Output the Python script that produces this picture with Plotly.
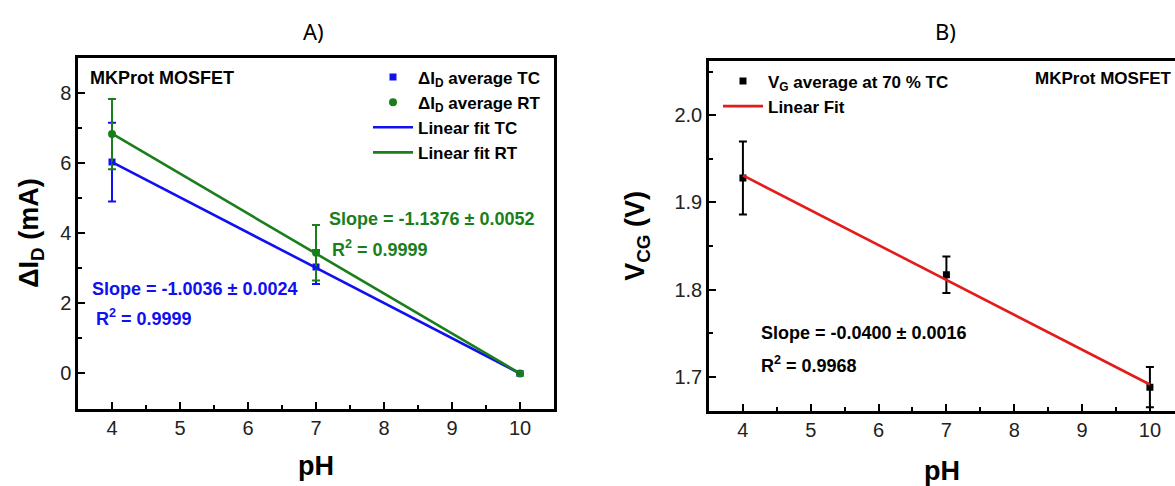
import plotly.graph_objects as go

# ---------------- Panel A data ----------------
ph = [4, 7, 10]
id_tc = [6.02, 3.03, 0.0]
id_tc_err = [1.12, 0.48, 0.0]
id_rt = [6.82, 3.44, 0.0]
id_rt_err = [1.0, 0.79, 0.0]
fit_ph = [4, 10]
fit_tc = [6.02, 0.0]
fit_rt = [6.83, 0.0]

# ---------------- Panel B data ----------------
vcg = [1.928, 1.817, 1.688]
vcg_err = [0.042, 0.021, 0.023]
fit_vcg = [1.931, 1.691]

BLUE = "#1010f0"
GREEN = "#1a7f1a"
RED = "#e41b1b"
FONT = "Liberation Sans"

fig = go.Figure()

fig.add_trace(go.Scatter(
    x=ph, y=id_tc, mode="markers", name="<b>ΔI<sub>D</sub> average TC</b>",
    marker=dict(symbol="square", size=7, color=BLUE),
    error_y=dict(type="data", array=id_tc_err, color=BLUE, thickness=2, width=4),
    xaxis="x", yaxis="y", legend="legend"))
fig.add_trace(go.Scatter(
    x=ph, y=id_rt, mode="markers", name="<b>ΔI<sub>D</sub> average RT</b>",
    marker=dict(symbol="circle", size=8, color=GREEN),
    error_y=dict(type="data", array=id_rt_err, color=GREEN, thickness=2, width=4),
    xaxis="x", yaxis="y", legend="legend"))
fig.add_trace(go.Scatter(
    x=fit_ph, y=fit_tc, mode="lines", name="<b>Linear fit TC</b>",
    line=dict(color=BLUE, width=2.6), xaxis="x", yaxis="y", legend="legend"))
fig.add_trace(go.Scatter(
    x=fit_ph, y=fit_rt, mode="lines", name="<b>Linear fit RT</b>",
    line=dict(color=GREEN, width=2.6), xaxis="x", yaxis="y", legend="legend"))

fig.add_trace(go.Scatter(
    x=ph, y=vcg, mode="markers", name="<b>V<sub>G</sub> average at 70 % TC</b>",
    marker=dict(symbol="square", size=7, color="black"),
    error_y=dict(type="data", array=vcg_err, color="black", thickness=2, width=4),
    xaxis="x2", yaxis="y2", legend="legend2"))
fig.add_trace(go.Scatter(
    x=fit_ph, y=fit_vcg, mode="lines", name="<b>Linear Fit</b>",
    line=dict(color=RED, width=2.6), xaxis="x2", yaxis="y2", legend="legend2"))

axis_common = dict(
    showline=True, linecolor="black", linewidth=2.5, showgrid=False, zeroline=False,
    ticks="inside", ticklen=7, tickwidth=2, tickcolor="black",
    tickfont=dict(family=FONT, size=20, color="#222"),
    minor=dict(ticks="inside", ticklen=4, tickwidth=2, tickcolor="black"),
)

fig.update_layout(
    width=1175, height=486,
    margin=dict(l=0, r=0, t=0, b=0),
    paper_bgcolor="white", plot_bgcolor="white",
    font=dict(family=FONT, size=18, color="black"),
    xaxis=dict(domain=[0.0664, 0.4715], range=[3.5, 10.5], dtick=1, mirror=True,
               anchor="y", minor_dtick=0.5,
               title=dict(text="<b>pH</b>", font=dict(size=27), standoff=18),
               **axis_common),
    yaxis=dict(domain=[0.1523, 0.8807], range=[-1, 9], dtick=2, mirror=True,
               anchor="x", minor_dtick=1,
               title=dict(text="<b>ΔI<sub>D</sub> (mA)</b>", font=dict(size=27), standoff=14),
               **axis_common),
    xaxis2=dict(domain=[0.6034, 1.0], range=[3.5, 10.37], dtick=1, mirror=True,
                anchor="y2", minor_dtick=0.5,
                title=dict(text="<b>pH</b>", font=dict(size=27), standoff=26),
                **axis_common),
    yaxis2=dict(domain=[0.148, 0.873], range=[1.661, 2.062], dtick=0.1, tickformat=".1f",
                anchor="x2", minor_dtick=0.05,
                title=dict(text="<b>V<sub>CG</sub> (V)</b>", font=dict(size=27), standoff=22),
                **axis_common),
    legend=dict(x=368 / 1175, y=1 - 60 / 486, xanchor="left", yanchor="top",
                bgcolor="rgba(0,0,0,0)", font=dict(family=FONT, size=17, color="black"),
                itemwidth=40, tracegroupgap=0),
    legend2=dict(x=718 / 1175, y=1 - 64 / 486, xanchor="left", yanchor="top",
                 bgcolor="rgba(0,0,0,0)", font=dict(family=FONT, size=17, color="black"),
                 itemwidth=40, tracegroupgap=0),
    showlegend=True,
)

ann_font = dict(family=FONT, size=18)
annotations = [
    dict(text="A)", x=313 / 1175, y=1 - 31 / 486, xref="paper", yref="paper",
         xanchor="center", yanchor="middle", showarrow=False,
         font=dict(family="Noto Sans", size=22, color="black")),
    dict(text="B)", x=945 / 1175, y=1 - 31 / 486, xref="paper", yref="paper",
         xanchor="center", yanchor="middle", showarrow=False,
         font=dict(family="Noto Sans", size=22, color="black")),
    dict(text="<b>MKProt MOSFET</b>", x=3.65, y=8.42, xref="x", yref="y",
         xanchor="left", showarrow=False, font=dict(ann_font, color="black")),
    dict(text="<b>Slope = -1.0036 ± 0.0024</b>", x=3.68, y=2.42, xref="x", yref="y",
         xanchor="left", showarrow=False, font=dict(ann_font, color=BLUE)),
    dict(text="<b>R<sup>2</sup> = 0.9999</b>", x=3.74, y=1.60, xref="x", yref="y",
         xanchor="left", showarrow=False, font=dict(ann_font, color=BLUE)),
    dict(text="<b>Slope = -1.1376 ± 0.0052</b>", x=7.16, y=4.40, xref="x", yref="y",
         xanchor="left", showarrow=False, font=dict(ann_font, color=GREEN)),
    dict(text="<b>R<sup>2</sup> = 0.9999</b>", x=7.20, y=3.55, xref="x", yref="y",
         xanchor="left", showarrow=False, font=dict(ann_font, color=GREEN)),
    dict(text="<b>MKProt MOSFET</b>", x=10.36, y=2.042, xref="x2", yref="y2",
         xanchor="right", showarrow=False, font=dict(family=FONT, size=17, color="black")),
    dict(text="<b>Slope = -0.0400 ± 0.0016</b>", x=4.23, y=1.7506, xref="x2", yref="y2",
         xanchor="left", showarrow=False, font=dict(ann_font, color="black")),
    dict(text="<b>R<sup>2</sup> = 0.9968</b>", x=4.23, y=1.7136, xref="x2", yref="y2",
         xanchor="left", showarrow=False, font=dict(ann_font, color="black")),
]
fig.update_layout(annotations=annotations)

fig.write_html("out.html")
